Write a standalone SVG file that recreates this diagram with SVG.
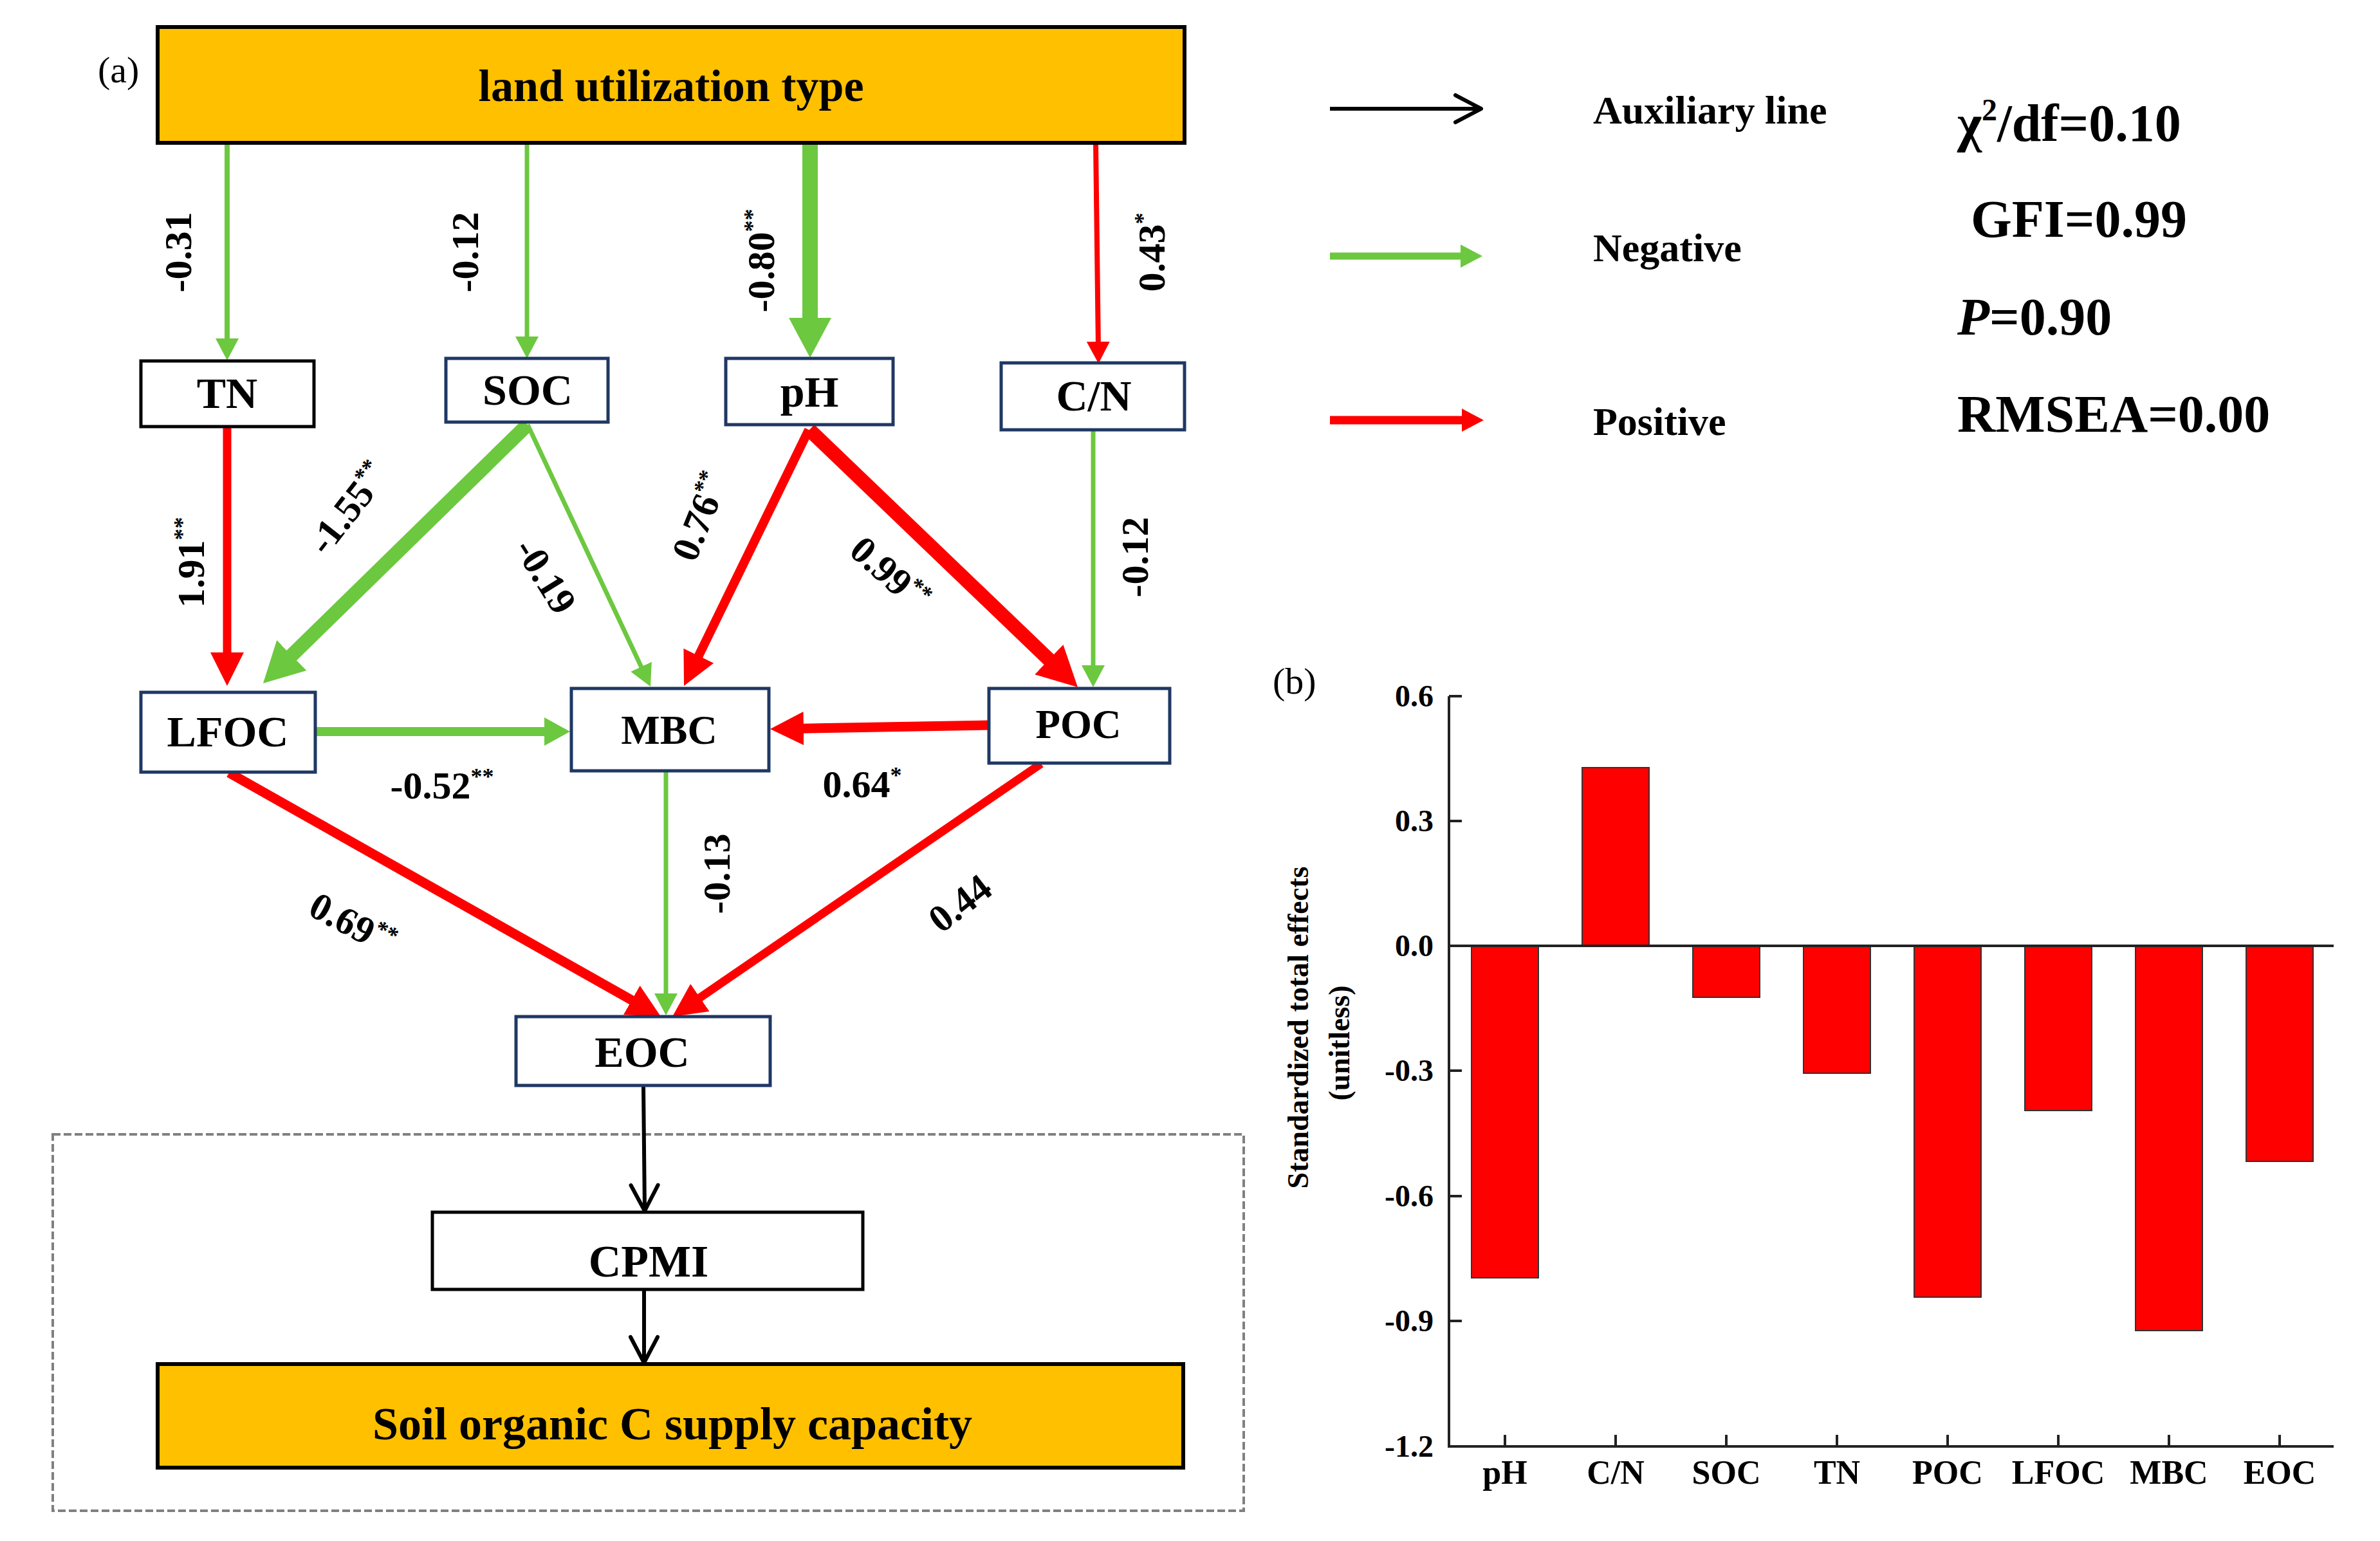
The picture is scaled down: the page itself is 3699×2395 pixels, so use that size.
<svg xmlns="http://www.w3.org/2000/svg" width="3699" height="2395" viewBox="0 0 3699 2395">
<style>
text{font-family:"Liberation Serif","Times New Roman",serif;font-weight:bold;fill:#000}
.box{fill:#fff;stroke:#1F3864;stroke-width:5}
.boxk{fill:#fff;stroke:#000;stroke-width:5}
.gold{fill:#FFC000;stroke:#000;stroke-width:6}
.nl{font-size:68px;text-anchor:middle}
.el{font-size:60px;text-anchor:middle}
.sup{font-size:36px}
.g{stroke:#6CC83F;fill:none}
.r{stroke:#FF0000;fill:none}
.k{stroke:#000;fill:none}
.lg{font-size:62px}
.st{font-size:82px}
.tick{font-size:48px;text-anchor:end}
.cat{font-size:52px;text-anchor:middle}
.bar{fill:#FF0000;stroke:#333;stroke-width:2}
.ax{stroke:#222;stroke-width:4;fill:none}
</style>
<defs>
<marker id="gS" viewBox="0 0 34 36" markerWidth="34" markerHeight="36" refX="10" refY="18" orient="auto" markerUnits="userSpaceOnUse"><path d="M0,0 L34,18 L0,36 z" fill="#6CC83F"/></marker>
<marker id="gM" viewBox="0 0 40 44" markerWidth="40" markerHeight="44" refX="12" refY="22" orient="auto" markerUnits="userSpaceOnUse"><path d="M0,0 L40,22 L0,44 z" fill="#6CC83F"/></marker>
<marker id="gL" viewBox="0 0 62 66" markerWidth="62" markerHeight="66" refX="19" refY="33" orient="auto" markerUnits="userSpaceOnUse"><path d="M0,0 L62,33 L0,66 z" fill="#6CC83F"/></marker>
<marker id="rS" viewBox="0 0 34 36" markerWidth="34" markerHeight="36" refX="10" refY="18" orient="auto" markerUnits="userSpaceOnUse"><path d="M0,0 L34,18 L0,36 z" fill="#FF0000"/></marker>
<marker id="rM" viewBox="0 0 52 52" markerWidth="52" markerHeight="52" refX="16" refY="26" orient="auto" markerUnits="userSpaceOnUse"><path d="M0,0 L52,26 L0,52 z" fill="#FF0000"/></marker>
<marker id="rL" viewBox="0 0 62 64" markerWidth="62" markerHeight="64" refX="19" refY="32" orient="auto" markerUnits="userSpaceOnUse"><path d="M0,0 L62,32 L0,64 z" fill="#FF0000"/></marker>
<marker id="kC" viewBox="-46 -26 50 52" markerWidth="50" markerHeight="52" refX="0" refY="0" orient="auto" markerUnits="userSpaceOnUse"><path d="M-40,-21 L0,0 L-40,21" fill="none" stroke="#000" stroke-width="6" stroke-linecap="round" stroke-linejoin="round"/></marker>
</defs>
<rect width="3699" height="2395" fill="#fff"/>

<text x="152" y="128" style="font-size:58px;font-weight:normal">(a)</text>
<text x="1978" y="1078" style="font-size:58px;font-weight:normal">(b)</text>

<rect x="82" y="1763" width="1851" height="585" fill="none" stroke="#808080" stroke-width="4" stroke-dasharray="12 5"/>

<g id="connectors">
<line class="g" stroke-width="8" x1="353" y1="222" x2="353" y2="536" marker-end="url(#gS)"/>
<line class="g" stroke-width="7" x1="819" y1="222" x2="819" y2="533" marker-end="url(#gS)"/>
<line class="g" stroke-width="24" x1="1259" y1="222" x2="1259" y2="513" marker-end="url(#gL)"/>
<line class="r" stroke-width="8" x1="1703" y1="222" x2="1707" y2="541" marker-end="url(#rS)"/>
<line class="r" stroke-width="13" x1="353" y1="664" x2="353" y2="1030" marker-end="url(#rM)"/>
<line class="g" stroke-width="22" x1="820" y1="660" x2="439.7" y2="1031.9" marker-end="url(#gL)"/>
<line class="g" stroke-width="7" x1="820" y1="660" x2="1000.8" y2="1045.3" marker-end="url(#gS)"/>
<line class="r" stroke-width="14" x1="1257" y1="668" x2="1078.8" y2="1033.6" marker-end="url(#rM)"/>
<line class="r" stroke-width="22" x1="1258" y1="668" x2="1644" y2="1038.2" marker-end="url(#rL)"/>
<line class="g" stroke-width="7" x1="1699" y1="669" x2="1699" y2="1044" marker-end="url(#gS)"/>
<line class="g" stroke-width="14" x1="491" y1="1137" x2="858" y2="1137" marker-end="url(#gM)"/>
<line class="r" stroke-width="15" x1="1537" y1="1127" x2="1233" y2="1132.4" marker-end="url(#rM)"/>
<line class="g" stroke-width="7" x1="1035" y1="1198" x2="1035" y2="1554" marker-end="url(#gS)"/>
<line class="r" stroke-width="15" x1="356" y1="1201" x2="995.7" y2="1562.3" marker-end="url(#rM)"/>
<line class="r" stroke-width="13" x1="1618" y1="1187" x2="1074.7" y2="1559.6" marker-end="url(#rM)"/>
<line class="k" stroke-width="6" x1="1000" y1="1687" x2="1002" y2="1882" marker-end="url(#kC)"/>
<line class="k" stroke-width="6" x1="1001" y1="2004" x2="1001" y2="2118" marker-end="url(#kC)"/>
</g>

<g id="edge-labels">
<text class="el" transform="translate(277,392) rotate(-90)" y="20">-0.31</text>
<text class="el" transform="translate(723,392) rotate(-90)" y="20">-0.12</text>
<text class="el" transform="translate(1183,405) rotate(-90)" y="20">-0.80<tspan class="sup" dy="-22">**</tspan></text>
<text class="el" transform="translate(1790,392) rotate(-90)" y="20">0.43<tspan class="sup" dy="-22">*</tspan></text>
<text class="el" transform="translate(297,874) rotate(-90)" y="20">1.91<tspan class="sup" dy="-22">**</tspan></text>
<text class="el" transform="translate(541,790) rotate(-52)" y="20">-1.55<tspan class="sup" dy="-22">**</tspan></text>
<text class="el" transform="translate(848,895) rotate(58)" y="20">-0.19</text>
<text class="el" transform="translate(1088,803) rotate(-68)" y="20">0.76<tspan class="sup" dy="-22">**</tspan></text>
<text class="el" transform="translate(1383,892) rotate(42)" y="20">0.99<tspan class="sup" dy="-22">**</tspan></text>
<text class="el" transform="translate(1764,866) rotate(-90)" y="20">-0.12</text>
<text class="el" x="687" y="1241">-0.52<tspan class="sup" dy="-22">**</tspan></text>
<text class="el" x="1340" y="1239">0.64<tspan class="sup" dy="-22">*</tspan></text>
<text class="el" transform="translate(1114,1358) rotate(-90)" y="20">-0.13</text>
<text class="el" transform="translate(548,1436) rotate(28)" y="20">0.69<tspan class="sup" dy="-22">**</tspan></text>
<text class="el" transform="translate(1492,1404) rotate(-38)" y="20">0.44</text>
</g>

<g id="node-land"><rect class="gold" x="245" y="42" width="1596" height="180"/><text class="nl" x="1043" y="157" style="font-size:70px">land utilization type</text></g>
<g id="node-TN"><rect class="boxk" x="219" y="561" width="269" height="102"/><text class="nl" x="353" y="634">TN</text></g>
<g id="node-SOC"><rect class="box" x="693" y="557" width="252" height="99"/><text class="nl" x="820" y="629">SOC</text></g>
<g id="node-pH"><rect class="box" x="1128" y="557" width="260" height="103"/><text class="nl" x="1258" y="632">pH</text></g>
<g id="node-CN"><rect class="box" x="1556" y="564" width="285" height="104"/><text class="nl" x="1700" y="638">C/N</text></g>
<g id="node-LFOC"><rect class="box" x="219" y="1076" width="271" height="124"/><text class="nl" x="354" y="1160">LFOC</text></g>
<g id="node-MBC"><rect class="box" x="888" y="1070" width="307" height="128"/><text class="nl" x="1040" y="1156" style="font-size:64px">MBC</text></g>
<g id="node-POC"><rect class="box" x="1537" y="1070" width="281" height="116"/><text class="nl" x="1676" y="1147" style="font-size:63px">POC</text></g>
<g id="node-EOC"><rect class="box" x="802" y="1580" width="395" height="107"/><text class="nl" x="998" y="1658">EOC</text></g>
<g id="node-CPMI"><rect class="boxk" x="672" y="1884" width="669" height="120"/><text class="nl" x="1008" y="1984" style="font-size:70px">CPMI</text></g>
<g id="node-soil"><rect class="gold" x="245" y="2120" width="1594" height="161"/><text class="nl" x="1045" y="2237" style="font-size:72px">Soil organic C supply capacity</text></g>

<g id="legend">
<line class="k" stroke-width="6" x1="2067" y1="169" x2="2302" y2="169" marker-end="url(#kC)"/>
<line class="g" stroke-width="11" x1="2067" y1="398" x2="2280" y2="398" marker-end="url(#gS)"/>
<line class="r" stroke-width="13" x1="2067" y1="653" x2="2282" y2="653" marker-end="url(#rS)"/>
<text class="lg" x="2476" y="192">Auxiliary line</text>
<text class="lg" x="2476" y="406">Negative</text>
<text class="lg" x="2476" y="676">Positive</text>
<text class="st" x="3042" y="219">χ<tspan style="font-size:48px" dy="-32">2</tspan><tspan dy="32">/df=0.10</tspan></text>
<text class="st" x="3063" y="368">GFI=0.99</text>
<text class="st" x="3042" y="520"><tspan font-style="italic">P</tspan>=0.90</text>
<text class="st" x="3042" y="671">RMSEA=0.00</text>
</g>

<g id="chart">
<rect class="bar" x="2287" y="1470" width="104" height="516"/>
<rect class="bar" x="2459" y="1193" width="104" height="277"/>
<rect class="bar" x="2631" y="1470" width="104" height="80"/>
<rect class="bar" x="2803" y="1470" width="104" height="198"/>
<rect class="bar" x="2975" y="1470" width="104" height="546"/>
<rect class="bar" x="3147" y="1470" width="104" height="256"/>
<rect class="bar" x="3319" y="1470" width="104" height="598"/>
<rect class="bar" x="3491" y="1470" width="104" height="335"/>
<path class="ax" d="M2252,1082 V2248 H3627"/>
<path class="ax" d="M2252,1470 H3627"/>
<path class="ax" d="M2252,1082 h20 M2252,1276 h20 M2252,1664 h20 M2252,1859 h20 M2252,2053 h20"/>
<path class="ax" d="M2339,2248 v-18 M2511,2248 v-18 M2683,2248 v-18 M2855,2248 v-18 M3027,2248 v-18 M3199,2248 v-18 M3371,2248 v-18 M3543,2248 v-18"/>
<text class="tick" x="2228" y="1098">0.6</text>
<text class="tick" x="2228" y="1292">0.3</text>
<text class="tick" x="2228" y="1486">0.0</text>
<text class="tick" x="2228" y="1680">-0.3</text>
<text class="tick" x="2228" y="1875">-0.6</text>
<text class="tick" x="2228" y="2069">-0.9</text>
<text class="tick" x="2228" y="2264">-1.2</text>
<text class="cat" x="2339" y="2306">pH</text>
<text class="cat" x="2511" y="2306">C/N</text>
<text class="cat" x="2683" y="2306">SOC</text>
<text class="cat" x="2855" y="2306">TN</text>
<text class="cat" x="3027" y="2306">POC</text>
<text class="cat" x="3199" y="2306">LFOC</text>
<text class="cat" x="3371" y="2306">MBC</text>
<text class="cat" x="3543" y="2306">EOC</text>
<text transform="translate(2033,1597) rotate(-90)" text-anchor="middle" style="font-size:46px">Standardized total effects</text>
<text transform="translate(2097,1621) rotate(-90)" text-anchor="middle" style="font-size:46px">(unitless)</text>
</g>
</svg>
